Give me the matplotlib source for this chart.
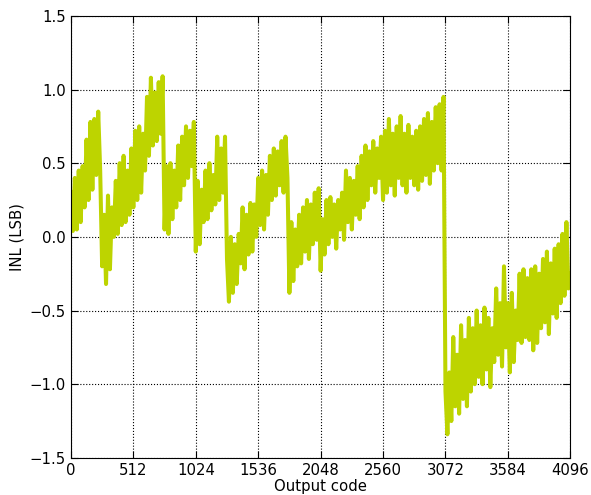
import numpy as np
import matplotlib
matplotlib.use('Agg')
import matplotlib.pyplot as plt

# output codes, sampled every 16 codes
codes = np.arange(0, 4097, 16)

# INL values (LSB), alternating along the noisy band
inl_seg1 = [0.30, 0.04, 0.40, 0.05, 0.45, 0.10, 0.48, 0.20, 0.66, 0.25, 0.78, 0.32,
            0.80, 0.42, 0.85, 0.45]
inl_seg2 = [-0.20, 0.15, -0.32, 0.28, -0.22, 0.20, 0.00, 0.38, 0.02, 0.50, 0.08, 0.55,
            0.10, 0.45, 0.15, 0.60, 0.20, 0.72, 0.25, 0.75, 0.30, 0.70, 0.45, 0.95,
            0.55, 1.08, 0.62, 0.98, 0.65, 1.05, 0.70, 1.09]
inl_seg3 = [0.05, 0.48, 0.02, 0.50, 0.12, 0.45, 0.20, 0.62, 0.25, 0.68, 0.35, 0.75,
            0.40, 0.72, 0.48, 0.78]
inl_seg4 = [-0.10, 0.38, -0.05, 0.32, 0.10, 0.45, 0.12, 0.50, 0.18, 0.42, 0.22, 0.68,
            0.25, 0.60, 0.30, 0.68]
inl_seg5 = [-0.15, -0.44, 0.00, -0.38, -0.05, -0.32, 0.02, -0.18, 0.20, -0.22, 0.15, -0.12,
            0.23, -0.10, 0.22, 0.00, 0.40, 0.08, 0.45, 0.05, 0.42, 0.15, 0.55, 0.25,
            0.60, 0.28, 0.58, 0.35, 0.65, 0.30, 0.68, 0.40]
inl_seg6 = [-0.38, 0.10, -0.30, 0.05, -0.20, 0.15, -0.18, 0.20, -0.10, 0.25, -0.15, 0.22,
            -0.05, 0.30, -0.02, 0.33, -0.23, 0.12, -0.12, 0.25, -0.05, 0.27, 0.00, 0.22,
            -0.08, 0.25, 0.05, 0.30, -0.02, 0.45, 0.10, 0.40, 0.05, 0.38, 0.15, 0.48,
            0.12, 0.55, 0.20, 0.62, 0.25, 0.58, 0.35, 0.65, 0.30, 0.60, 0.40, 0.68,
            0.25, 0.72, 0.30, 0.80, 0.35, 0.70, 0.28, 0.75, 0.40, 0.82, 0.35, 0.70,
            0.30, 0.76, 0.40, 0.68, 0.35, 0.72, 0.32, 0.75, 0.38, 0.80, 0.42, 0.84,
            0.36, 0.78, 0.45, 0.88, 0.50, 0.90, 0.45, 0.95]
inl_seg7 = [-1.05, -1.34, -0.92, -1.25, -0.68, -1.15, -0.80, -1.20, -0.60, -1.10, -0.70, -1.15,
            -0.55, -1.05, -0.62, -1.00, -0.50, -0.95, -0.60, -1.00, -0.48, -0.90, -0.55, -1.02,
            -0.62, -0.85, -0.35, -0.80, -0.45, -0.88, -0.20, -0.75, -0.45, -0.92, -0.38, -0.85,
            -0.50, -0.70, -0.25, -0.72, -0.22, -0.68, -0.28, -0.70, -0.22, -0.77, -0.20, -0.72,
            -0.25, -0.62, -0.15, -0.58, -0.10, -0.66, -0.18, -0.52, -0.08, -0.55, -0.05, -0.45,
            0.02, -0.40, 0.10, -0.35, -0.25]

inl = np.array(inl_seg1 + inl_seg2 + inl_seg3 + inl_seg4 + inl_seg5 + inl_seg6 + inl_seg7)

xticks = [0, 512, 1024, 1536, 2048, 2560, 3072, 3584, 4096]
yticks = [-1.5, -1.0, -0.5, 0.0, 0.5, 1.0, 1.5]

fig = plt.figure(figsize=(5.91, 4.95), dpi=100)
ax = fig.add_axes([0.120, 0.075, 0.845, 0.893])

ax.plot(codes, inl, color='#bdd400', linewidth=2.9)

ax.set_xlim(0, 4096)
ax.set_ylim(-1.5, 1.5)
ax.set_xticks(xticks)
ax.set_yticks(yticks)
ax.set_yticklabels(['\u22121.5', '\u22121.0', '\u22120.5', '0.0', '0.5', '1.0', '1.5'])
ax.tick_params(direction='in', top=True, right=True, length=5, labelsize=10.7)
ax.grid(True, color='black', linestyle=':', linewidth=0.8)
ax.set_xlabel('Output code', fontsize=10.7, labelpad=1)
ax.set_ylabel('INL (LSB)', fontsize=10.7)

fig.savefig('out.png', dpi=100, facecolor='white')
